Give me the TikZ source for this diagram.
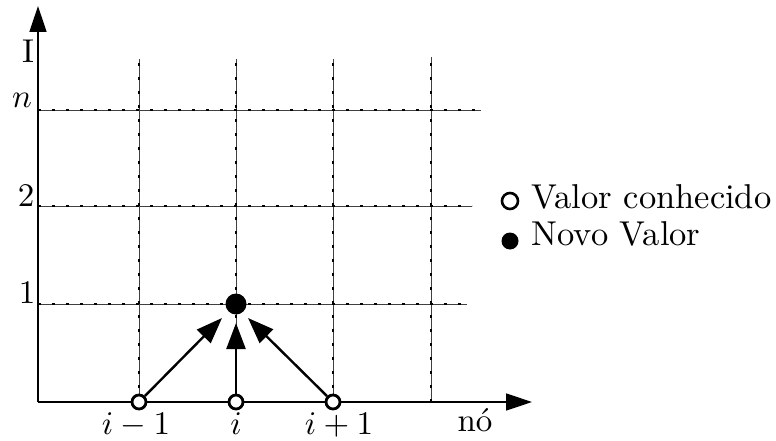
\documentclass[tikz,border=0pt]{standalone}
\usetikzlibrary{arrows.meta}
\begin{document}
\begin{tikzpicture}[x=1pt,y=-1pt,
  gridline/.style={draw=black!75,line width=0.9pt},
  griddots/.style={draw=black,line width=2.8pt,dash pattern=on 2.8pt off 11.2pt},
  axis/.style={line width=1.4pt,-{Triangle[length=26pt,width=17pt]}},
  flow/.style={line width=2.4pt,-{Triangle[length=26pt,width=19pt]}},
  known/.style={circle,draw,line width=2.8pt,minimum size=14pt,inner sep=0pt,fill=white},
  newval/.style={circle,fill=black,minimum size=21pt,inner sep=0pt},
  lbl/.style={scale=3.3,inner sep=0pt,anchor=base},
  legtext/.style={scale=3.45,inner sep=0pt,anchor=base west}]
\useasboundingbox (0,0) rectangle (776,441);
% grid
\foreach \x/\t in {139/59,236/59,333/59,431/57}{
  \draw[gridline] (\x,\t) -- (\x,402);
  \draw[griddots] (\x,402) -- (\x,\t);
}
\foreach \y/\e in {110/481,206/472,304/467}{
  \draw[gridline] (38,\y) -- (\e,\y);
  \draw[griddots] (38,\y) -- (\e,\y);
}
% axes
\coordinate (o) at (38,402);
\coordinate (ytip) at (38,6);
\coordinate (xtip) at (532,402);
\draw[axis] (o) -- (ytip);
\draw[axis] (o) -- (xtip);
% labels
\node[lbl] (lI) at (28,63) {I};
\node[lbl] (ln) at (22,108) {$n$};
\node[lbl] (l2) at (26,206) {2};
\node[lbl] (l1) at (27,303) {1};
\node[lbl] (lim) at (136,434) {$i-1$};
\node[lbl] (li) at (236,434) {$i$};
\node[lbl] (lip) at (339,434) {$i+1$};
\node[lbl] (lno) at (475,431) {nó};
% nodes
\node[newval] (nv) at (236,304) {};
\node[known] (a) at (139,402) {};
\node[known] (b) at (236,402) {};
\node[known] (c) at (333,402) {};
\coordinate (ta) at (222,318);
\coordinate (tb) at (236,323);
\coordinate (tc) at (248,318);
\draw[flow] (a) -- (ta);
\draw[flow] (b) -- (tb);
\draw[flow] (c) -- (tc);
% legend
\node[known,minimum size=16pt,line width=2.6pt] (lk) at (510,201) {};
\node[legtext] (tk) at (531,208) {Valor conhecido};
\node[newval,minimum size=17pt] (ln2) at (510,241) {};
\node[legtext] (tn) at (531,245) {Novo Valor};
\end{tikzpicture}
\end{document}
